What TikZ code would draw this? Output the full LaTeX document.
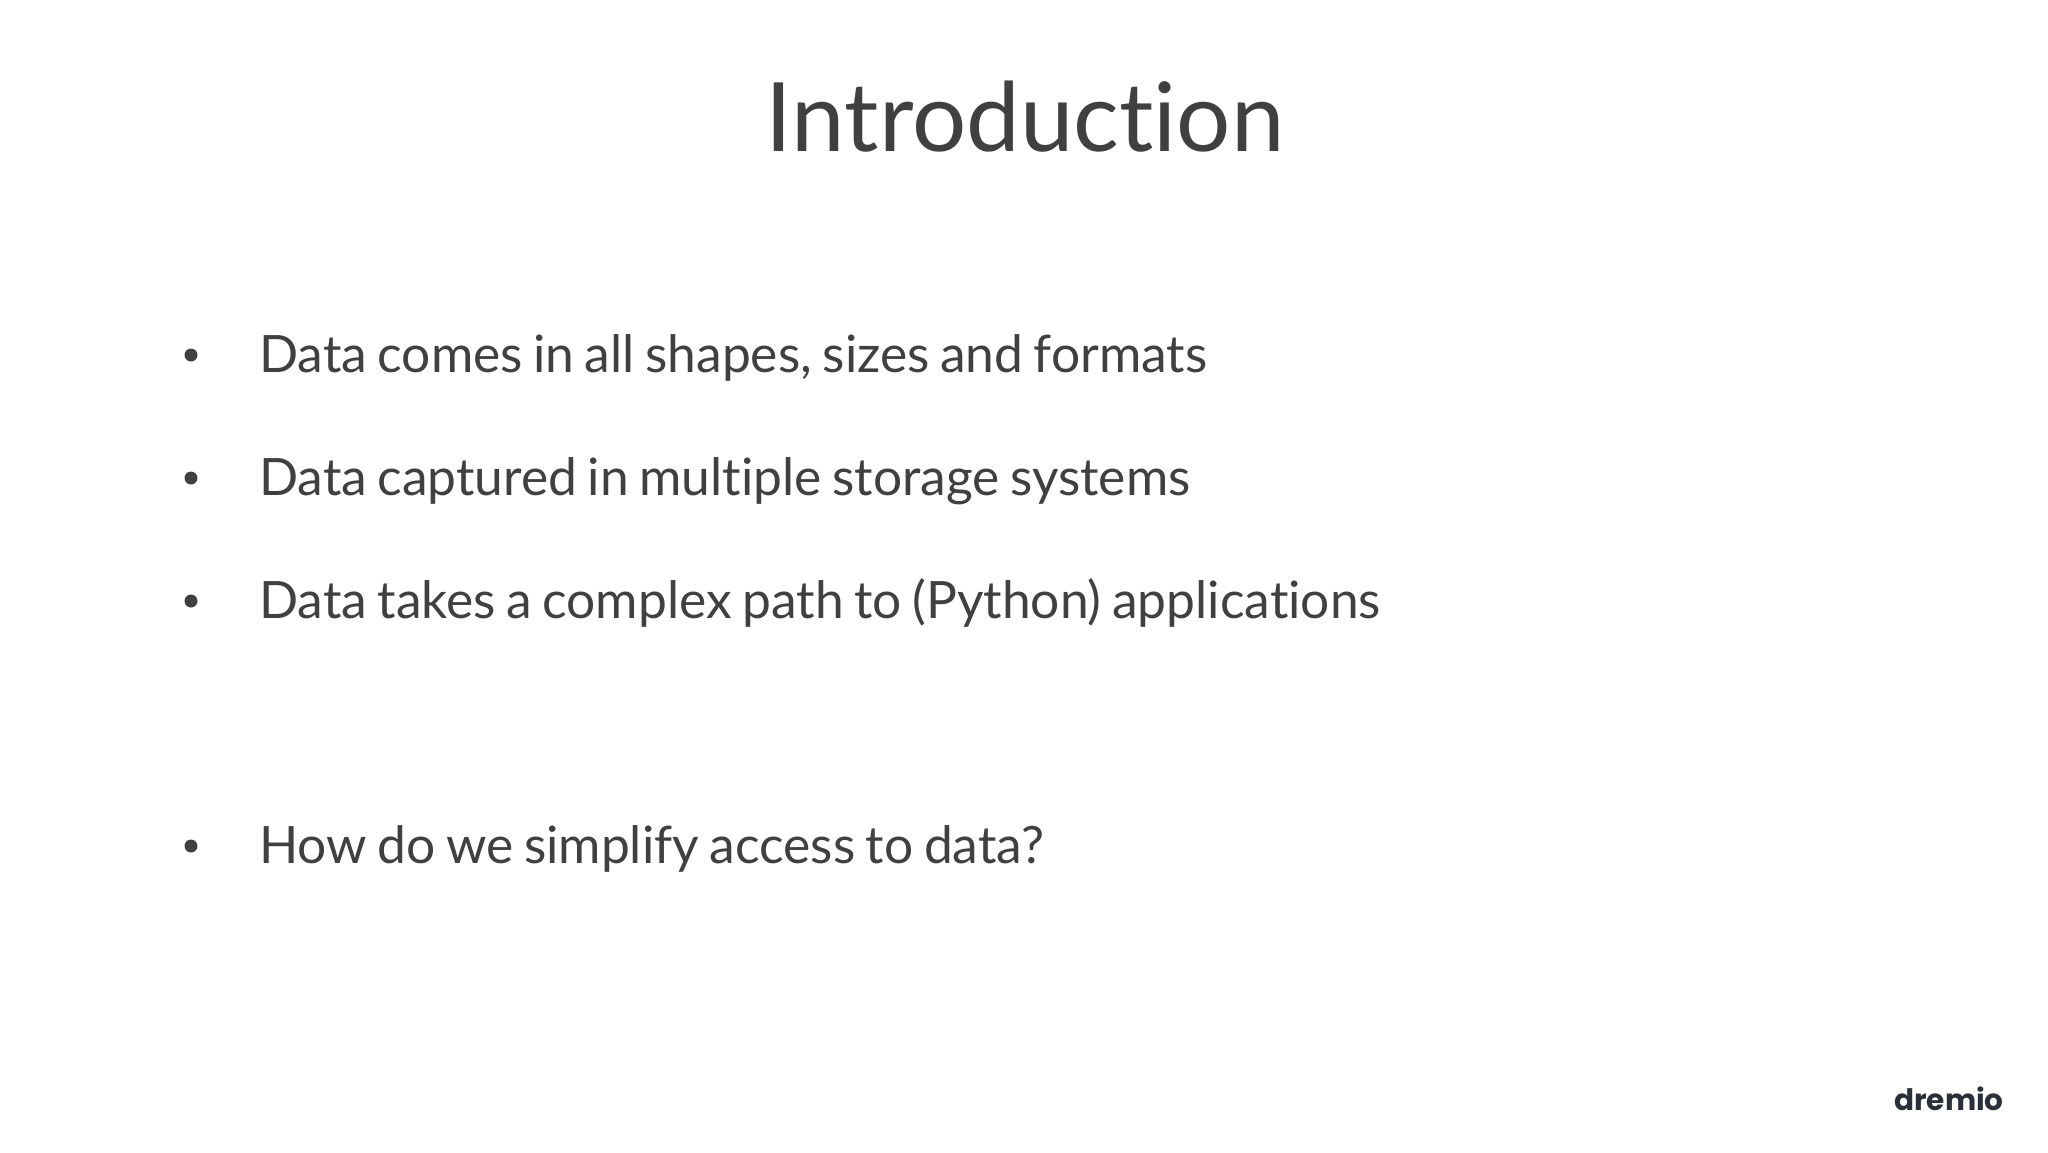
\documentclass[tikz,border=0pt]{standalone}
\usepackage{fontspec}
\setmainfont[Ligatures=NoCommon,WordSpace=0.80]{Lato}
\newfontfamily\logofont{Poppins}
\definecolor{ink}{HTML}{404040}
\definecolor{logoink}{HTML}{2B2F3A}
\tikzset{
  bodytext/.style={anchor=base west,inner sep=0pt,text=ink,font=\fontsize{51.5}{51.5}\selectfont},
  titletext/.style={anchor=base,inner sep=0pt,text=ink,font=\fontsize{95.8}{95.8}\selectfont},
  bulletdot/.style={circle,fill=ink,inner sep=0pt,minimum size=13pt},
  logotext/.style={anchor=base west,inner sep=0pt,text=logoink,font=\logofont\bfseries\fontsize{29.5}{29.5}\selectfont}
}
\begin{document}
\begin{tikzpicture}[x=1pt,y=-1pt]
\useasboundingbox (0,0) rectangle (2048,1152);
\node[titletext] (title) at (1025,151) {Introduction};
\node[bulletdot] (b1) at (191,355) {};
\node[bodytext] (t1) at (259,372.5) {Data comes in all shapes, sizes and formats};
\node[bulletdot] (b2) at (191,478) {};
\node[bodytext] (t2) at (259,495.5) {Data captured in multiple storage systems};
\node[bulletdot] (b3) at (191,601) {};
\node[bodytext] (t3) at (259,618.5) {Data takes a complex path to (Python) applications};
\node[bulletdot] (b4) at (191,846) {};
\node[bodytext] (t4) at (259,863.5) {How do we simplify access to data?};
\node[logotext] (logo) at (1894,1110) {dremio};
\end{tikzpicture}
\end{document}
